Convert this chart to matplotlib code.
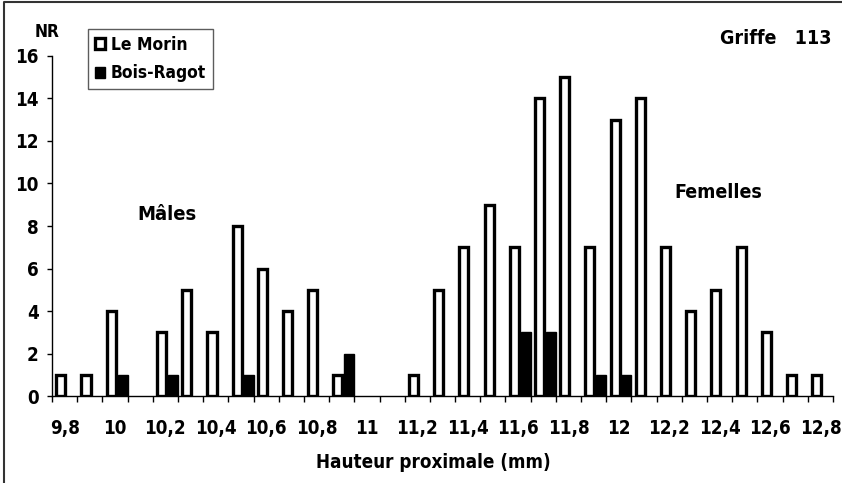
import matplotlib
matplotlib.use('Agg')
import matplotlib.pyplot as plt
from matplotlib import font_manager
import numpy as np

# classes de hauteur proximale (mm), pas de 0,1
classes = ['9,8', '9,9', '10', '10,1', '10,2', '10,3', '10,4', '10,5', '10,6', '10,7',
           '10,8', '10,9', '11', '11,1', '11,2', '11,3', '11,4', '11,5', '11,6', '11,7',
           '11,8', '11,9', '12', '12,1', '12,2', '12,3', '12,4', '12,5', '12,6', '12,7', '12,8']
le_morin = [1, 1, 4, 0, 3, 5, 3, 8, 6, 4, 5, 1, 0, 0, 1, 5, 7, 9, 7, 14,
            15, 7, 13, 14, 7, 4, 5, 7, 3, 1, 1]
bois_ragot = [0, 0, 1, 0, 1, 0, 0, 1, 0, 0, 0, 2, 0, 0, 0, 0, 0, 0, 3, 3,
              0, 1, 1, 0, 0, 0, 0, 0, 0, 0, 0]
y_ticks = [0, 2, 4, 6, 8, 10, 12, 14, 16]

# police etroite si dispo
noms = {f.name for f in font_manager.fontManager.ttflist}
if 'Liberation Sans Narrow' in noms:
    plt.rcParams['font.family'] = ['Liberation Sans Narrow', 'DejaVu Sans']
else:
    plt.rcParams['font.family'] = ['DejaVu Sans']
    plt.rcParams['font.stretch'] = 'condensed'
plt.rcParams['font.weight'] = 'bold'

W, H = 842, 483
fig = plt.figure(figsize=(W / 100, H / 100), dpi=100)
ax = fig.add_axes([52 / W, 1 - 396.3 / H, (833 - 52) / W, (396.3 - 55.7) / H])

x = np.arange(len(classes))
m = np.array(le_morin)
b = np.array(bois_ragot)
s1 = m > 0
s2 = b > 0
ax.bar(x[s1] - 0.15, m[s1], width=0.36, facecolor='white', edgecolor='black',
       linewidth=2.4, zorder=2, label='Le Morin')
ax.bar(x[s2] + 0.30, b[s2], width=0.40, facecolor='black', edgecolor='black',
       linewidth=1, zorder=3, label='Bois-Ragot')

ax.set_xlim(-0.5, len(classes) - 0.5)
ax.set_ylim(0, 16)
ax.set_yticks(y_ticks)
ax.set_yticklabels([str(v) for v in y_ticks], fontsize=13.5, fontweight='bold')
ax.set_xticks(x[::2])
ax.set_xticklabels(classes[::2], fontsize=13.5, fontweight='bold')
ax.set_xticks(np.arange(-0.5, len(classes)), minor=True)
ax.tick_params(axis='x', which='major', length=0, pad=16)
ax.tick_params(axis='x', which='minor', length=4.3, width=1, direction='out')
ax.tick_params(axis='y', length=3.6, width=1, direction='out', pad=6)
for sp in ['top', 'right']:
    ax.spines[sp].set_visible(False)
for sp in ['left', 'bottom']:
    ax.spines[sp].set_linewidth(1)

leg = ax.legend(loc='upper left', bbox_to_anchor=(88 / W, 1 - 29 / H),
                bbox_transform=fig.transFigure, fontsize=12.5, frameon=True,
                fancybox=False, handlelength=0.6, handleheight=0.6,
                handletextpad=0.3, borderpad=0.4, labelspacing=0.6,
                borderaxespad=0)
leg.get_frame().set_edgecolor('#333333')
leg.get_frame().set_linewidth(1)
for t in leg.get_texts():
    t.set_fontweight('bold')

fig.text(47 / W, 1 - 32 / H, 'NR', ha='center', va='center', fontsize=12.5)
fig.text(776 / W, 1 - 38 / H, 'Griffe   113', ha='center', va='center', fontsize=14)
fig.text(167 / W, 1 - 215 / H, 'Mâles', ha='center', va='center', fontsize=14.5)
fig.text(718 / W, 1 - 193 / H, 'Femelles', ha='center', va='center', fontsize=14)
fig.text(433 / W, 1 - 462 / H, 'Hauteur proximale (mm)', ha='center', va='center', fontsize=13.5)

# cadre du graphique
fig.add_artist(plt.Line2D([4 / W, 4 / W, 1], [0, 1 - 2 / H, 1 - 2 / H],
                          transform=fig.transFigure, color='#333333', linewidth=1.5))

fig.savefig('out.png', dpi=100)
